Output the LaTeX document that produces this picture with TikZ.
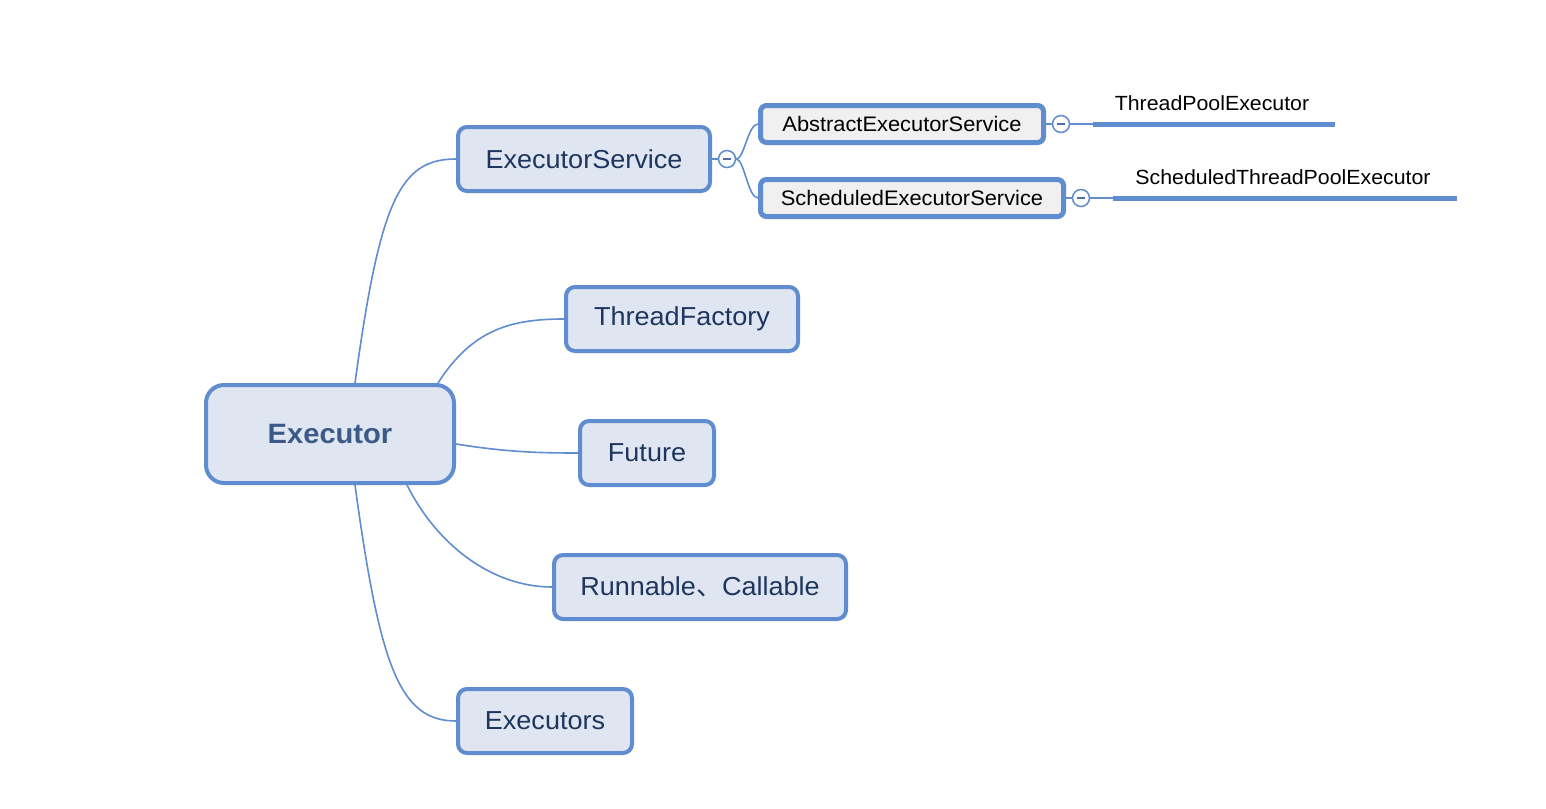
\documentclass[tikz,border=0pt]{standalone}
\usepackage{fontspec}
\setmainfont[FakeStretch=1.04]{Liberation Sans}
\newfontfamily\cjk{Noto Sans CJK SC}
\definecolor{mapblue}{RGB}{96,141,207}
\definecolor{mapfill}{RGB}{223,230,241}
\definecolor{mapgray}{RGB}{240,240,240}
\definecolor{maptext}{RGB}{30,54,94}
\definecolor{maproot}{RGB}{59,90,138}
\tikzset{
  root/.style={draw=mapblue, line width=4pt, fill=mapfill, rounded corners=18pt,
    inner sep=0pt, text=maproot, font=\fontsize{28}{32}\selectfont\bfseries},
  topic/.style={draw=mapblue, line width=4pt, fill=mapfill, rounded corners=9pt,
    inner sep=0pt, minimum height=64pt, text=maptext, font=\fontsize{26}{30}\selectfont},
  subtopic/.style={draw=mapblue, line width=5pt, fill=mapgray, rounded corners=6pt,
    inner sep=0pt, minimum height=37pt, text=black, font=\fontsize{21}{25}\selectfont},
  leaf/.style={inner sep=0pt, text=black, font=\fontsize{20.5}{24}\selectfont},
  fold/.style={circle, draw=mapblue, fill=white, line width=1.5pt, minimum size=17pt, inner sep=0pt},
  foldmark/.style={draw=mapblue!80!black, line width=1.2pt},
  link/.style={draw=mapblue, line width=1.6pt},
  leafline/.style={draw=mapblue, line width=5pt}
}
\begin{document}
\begin{tikzpicture}[x=1pt,y=-1pt]
\useasboundingbox[fill=white] (0.000000,0.000000) rectangle (1546.000000,808.000000);
% Drawing topics
\node[root, minimum width=248pt, minimum height=98pt] (root) at (330.000000,434.000000) {Executor};
\node[topic, minimum width=252pt] (es) at (584.000000,159.000000) {ExecutorService};
\node[topic, minimum width=232pt] (tf) at (682.000000,319.000000) {ThreadFactory};
\node[topic, minimum width=134pt] (fut) at (647.000000,453.000000) {Future};
\node[topic, minimum width=292pt] (run) at (700.000000,587.000000) {Runnable{\cjk 、}Callable};
\node[topic, minimum width=174pt] (exs) at (545.000000,721.000000) {Executors};
% Line 2: es children
\node[subtopic, minimum width=283pt] (aes) at (902.000000,124.000000) {AbstractExecutorService};
\node[subtopic, minimum width=303pt] (ses) at (912.000000,198.000000) {ScheduledExecutorService};
% Line 3: leaves
\node[leaf] (tpe) at (1212.000000,103.000000) {ThreadPoolExecutor};
\coordinate (tpeA) at (1093.000000,124.000000);
\coordinate (tpeB) at (1335.000000,124.000000);
\node[leaf] (stpe) at (1283.000000,177.000000) {ScheduledThreadPoolExecutor};
\coordinate (stpeA) at (1113.000000,198.000000);
\coordinate (stpeB) at (1457.000000,198.000000);
% Done with topics; drawing fold buttons
\node[fold] (f0) at (727.000000,159.000000) {};
\node[fold] (f1) at (1061.000000,124.000000) {};
\node[fold] (f2) at (1081.000000,198.000000) {};
\foreach \f in {f0,f1,f2}
  \draw[foldmark] ([xshift=-4pt]\f.center) -- ([xshift=4pt]\f.center);
% Done with fold buttons; drawing links
\draw[link] ([xshift=25pt]root.north) .. controls +(25,-183) and +(-56,0) .. (es.west);
\draw[link] ([xshift=-18pt]root.north east) .. controls +(34,-53) and +(-54,0) .. (tf.west);
\draw[link] ([yshift=-10pt]root.east) .. controls +(50,8) and +(-40,0) .. (fut.west);
\draw[link] ([xshift=-49pt]root.south east) .. controls +(30,60) and +(-60,0) .. (run.west);
\draw[link] ([xshift=25pt]root.south) .. controls +(25,183) and +(-56,0) .. (exs.west);
\draw[link] (es.east) -- (f0.west);
\draw[link] (f0.east) .. controls +(8,0) and +(-10,0) .. (aes.west);
\draw[link] (f0.east) .. controls +(8,0) and +(-10,0) .. (ses.west);
\draw[link] (aes.east) -- (f1.west);
\draw[link] (ses.east) -- (f2.west);
\draw[link] (f1.east) -- (tpeA);
\draw[link] (f2.east) -- (stpeA);
\draw[leafline] (tpeA) -- (tpeB);
\draw[leafline] (stpeA) -- (stpeB);
% Done with links
\end{tikzpicture}
\end{document}
